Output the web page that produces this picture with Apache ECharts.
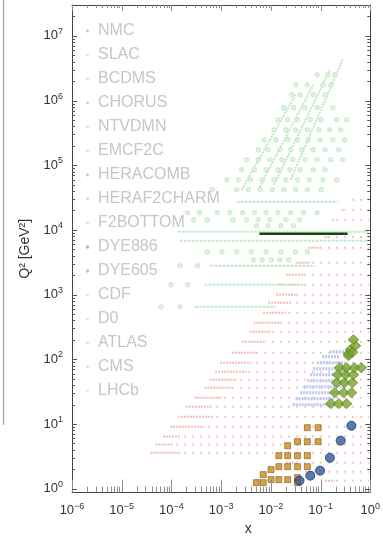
<!DOCTYPE html>
<html>
<head>
<meta charset="utf-8">
<script src="https://cdn.jsdelivr.net/npm/echarts@6/dist/echarts.min.js"></script>
<style>
  html, body { margin: 0; padding: 0; background: #fff; }
  #chart { width: 383px; height: 541px; }
</style>
</head>
<body>
<div id="chart"></div>
<script>
// axis ranges
var X_MIN = 1e-6, X_MAX = 1;
var Y_MIN = 0.87, Y_MAX = 3e7;
var xTickExponents = [-6, -5, -4, -3, -2, -1, 0];
var xTickLabels = ['\u22126', '\u22125', '\u22124', '\u22123', '\u22122', '\u22121', '0'];
var yTickExponents = [0, 1, 2, 3, 4, 5, 6, 7];
var yTickLabels = ['0', '1', '2', '3', '4', '5', '6', '7'];
var minorMultipliers = [2, 3, 4, 5, 6, 7, 8, 9];

// legend
var legendNames = ['NMC', 'SLAC', 'BCDMS', 'CHORUS', 'NTVDMN', 'EMCF2C', 'HERACOMB', 'HERAF2CHARM',
  'F2BOTTOM', 'DYE886', 'DYE605', 'CDF', 'D0', 'ATLAS', 'CMS', 'LHCb'];
var legendColors = ['#f4b6bf', '#d9d9d9', '#d6d6d6', '#f1b0b8', '#d4d4d4', '#d6d6d6', '#f2b6be', '#f0bcc4',
  '#d2d6d2', '#aab3e4', '#aab3e4', '#dcdcdc', '#dcdcdc', '#dddddd', '#dcdcdc', '#dddddd'];
var legendIcons = ['circle', 'circle', 'circle', 'circle', 'circle', 'circle', 'circle', 'circle',
  'circle', 'rect', 'rect', 'circle', 'circle', 'circle', 'circle', 'circle'];

// fixed target / DIS rows: [Q2, x start, x end of dense part, x end]
var pinkRows = [
  [3.6, 3.8e-5, 1.55e-4, 0.95], [4.8, 4.75e-5, 1.08e-4, 0.95], [6.4, 6.8e-5, 1.55e-4, 0.95],
  [9.1, 9.4e-5, 4.6e-4, 0.95], [13, 1.35e-4, 7.2e-4, 0.95], [18.5, 1.94e-4, 6.6e-4, 0.95],
  [25.5, 2.92e-4, 1.04e-3, 0.95], [36.4, 4.6e-4, 1.8e-3, 0.95], [48.4, 5.8e-4, 2.06e-3, 0.95],
  [64.3, 7.6e-4, 3.24e-3, 0.95], [88.6, 9.5e-4, 4.06e-3, 0.95], [126, 1.64e-3, 5.6e-3, 0.95],
  [187, 2.58e-3, 8.0e-3, 0.95], [267, 3.7e-3, 0.0101, 0.95], [368, 4.46e-3, 0.0159, 0.95],
  [525, 7.0e-3, 0.020, 0.95], [750, 8.8e-3, 0.025, 0.95], [996, 0.0127, 0.0314, 0.95],
  [1420, 0.0145, 0.039, 0.95], [2030, 0.020, 0.049, 0.95], [3110, 0.0314, 0.062, 0.95],
  [5310, 0.0566, 0.098, 0.95], [7800, 0.12, 0.15, 0.95], [14400, 0.169, 0.193, 0.95],
  [20500, 0.265, 0.304, 0.95], [29300, 0.437, 0.479, 0.95],
  [2.52, 0.020, 0.0314, 0.95], [1.83, 0.049, 0.078, 0.95], [1.33, 0.123, 0.193, 0.95]
];

// Drell-Yan rows: [Q2, x start, x end]
var lavenderRows = [
  [19.9, 0.0274, 0.16], [24.6, 0.0314, 0.193], [30.5, 0.039, 0.243], [37.7, 0.0452, 0.304],
  [46.7, 0.0542, 0.333], [57.8, 0.062, 0.382], [71.6, 0.0712, 0.382], [88.6, 0.0853, 0.304],
  [110, 0.107, 0.243], [131, 0.154, 0.304]
];

// collider rows: [Q2, x start, x end]
var greenRows = [
  [27300, 2.06e-3, 0.221], [9380, 1.35e-4, 0.90], [6810, 1.48e-4, 0.90],
  [2800, 6.0e-4, 0.078], [1420, 4.6e-4, 0.049], [650, 2.92e-4, 0.0127]
];

// diagonal streaks: [x1, Q2_1, x2, Q2_2]
var greenStreaks = [
  [2.58e-3, 4.18e4, 0.0314, 1.23e6],
  [5.6e-3, 4.18e4, 0.0712, 1.75e6],
  [0.0116, 5.0e4, 0.154, 2.99e6],
  [0.025, 5.97e4, 0.278, 4.27e6]
];

// open circles: [Q2, [x values]]
var greenCircleRows = [
  [2.5e6, [0.0853, 0.141, 0.193]],
  [1.75e6, [0.0314, 0.0542, 0.112, 0.161]],
  [1.23e6, [0.0262, 0.039, 0.0712, 0.123]],
  [7.74e5, [0.0182, 0.0287, 0.049, 0.0853, 0.177]],
  [5.05e5, [0.0139, 0.0218, 0.0343, 0.062, 0.102, 0.211, 0.333]],
  [3.54e5, [0.0116, 0.020, 0.0314, 0.0542, 0.0933, 0.154, 0.254]],
  [2.48e5, [7.3e-3, 0.0127, 0.0218, 0.0343, 0.0566, 0.098, 0.177, 0.304]],
  [1.74e5, [5.6e-3, 8.8e-3, 0.0152, 0.025, 0.0412, 0.0712, 0.123, 0.232]],
  [1.22e5, [3.24e-3, 5.6e-3, 9.6e-3, 0.0166, 0.0274, 0.049, 0.0853, 0.161, 0.278]],
  [8.52e4, [2.58e-3, 4.67e-3, 8.0e-3, 0.0139, 0.0239, 0.039, 0.0712, 0.123]],
  [5.97e4, [1.31e-3, 2.25e-3, 3.89e-3, 6.7e-3, 0.0116, 0.020, 0.0343, 0.0593, 0.112, 0.211]],
  [4.18e4, [6.6e-4, 2.06e-3, 3.55e-3, 6.1e-3, 0.0106, 0.0182, 0.0314, 0.0542, 0.102]],
  [1.85e4, [2.12e-4, 3.66e-4, 8.3e-4, 1.5e-3, 2.7e-3, 4.67e-3, 8.0e-3, 0.0139, 0.025, 0.0452, 0.0853]],
  [1.44e4, [2.79e-4, 5.27e-4, 1.72e-3, 3.24e-3, 5.6e-3, 9.6e-3, 0.020, 0.0377]],
  [1.16e4, [5.1e-3, 8.8e-3, 0.0159, 0.0287]],
  [4600, [5.27e-4, 1.04e-3, 2.06e-3, 4.06e-3, 8.0e-3, 0.0159, 0.0314, 0.0542]],
  [3460, [4.46e-3, 6.7e-3, 0.0101, 0.0152, 0.0229]],
  [2800, [1.48e-4, 3.35e-4]],
  [1420, [9.8e-5, 2.12e-4]],
  [650, [6.2e-5, 1.48e-4]]
];

var darkLine = [[0.0059, 8730], [0.35, 8730]];

var orangeSquares = [
  [0.0542, 8.77], [0.0893, 8.77],
  [0.0218, 4.62], [0.0343, 5.33], [0.0542, 5.33], [0.0893, 5.33],
  [0.0145, 3.24], [0.0218, 3.24], [0.0343, 3.24], [0.0542, 3.24],
  [0.0101, 1.97], [0.0145, 2.19], [0.0218, 2.19], [0.0343, 2.19], [0.0542, 2.19],
  [0.00702, 1.65],
  [0.0051, 1.24], [0.00702, 1.24], [0.0101, 1.38], [0.0145, 1.38], [0.0218, 1.38],
  [0.0343, 1.48], [0.0343, 1.24]
];

var blueCircles = [
  [0.418, 9.41], [0.254, 5.52], [0.154, 3.01], [0.0977, 1.90], [0.0621, 1.59], [0.0377, 1.33]
];

var greenDiamonds = [
  [0.161, 20.6], [0.232, 20.6], [0.333, 20.6],
  [0.193, 30.5], [0.291, 30.5], [0.418, 30.5],
  [0.211, 43.5], [0.304, 43.5], [0.437, 43.5],
  [0.221, 57.8], [0.318, 57.8], [0.458, 57.8],
  [0.243, 74.1], [0.333, 74.1], [0.479, 74.1], [0.66, 74.1],
  [0.365, 114], [0.365, 122], [0.400, 141], [0.501, 162], [0.458, 201], [0.44, 128]
];

function rowSegments(rows, from, to) {
  return rows.map(function (r) { return [r[from], r[0], r[to], r[0]]; });
}

function segmentSeries(name, segs, color, width, dash, period) {
  return {
    name: name,
    type: 'custom',
    coordinateSystem: 'cartesian2d',
    clip: true,
    silent: true,
    itemStyle: { color: color },
    data: segs,
    renderItem: function (params, api) {
      var p1 = api.coord([api.value(0), api.value(1)]);
      var p2 = api.coord([api.value(2), api.value(3)]);
      return {
        type: 'line',
        shape: { x1: p1[0], y1: p1[1], x2: p2[0], y2: p2[1] },
        style: {
          stroke: color, lineWidth: width, lineDash: dash, lineCap: 'butt',
          lineDashOffset: period ? (p1[0] % period) : 0
        }
      };
    }
  };
}

var circleData = [];
greenCircleRows.forEach(function (r) {
  r[1].forEach(function (x) { circleData.push([x, r[0]]); });
});

// tick marks for the frame (log minor ticks at 2..9)
var tickData = [];
xTickExponents.forEach(function (e) {
  tickData.push([Math.pow(10, e), Y_MIN, 0]);
  minorMultipliers.forEach(function (m) {
    var v = m * Math.pow(10, e);
    if (v < X_MAX) tickData.push([v, Y_MIN, 1]);
  });
});
[-1].concat(yTickExponents).forEach(function (e) {
  if (e >= 0) tickData.push([X_MIN, Math.pow(10, e), 2]);
  minorMultipliers.forEach(function (m) {
    var v = m * Math.pow(10, e);
    if (v > Y_MIN && v < Y_MAX) tickData.push([X_MIN, v, 3]);
  });
});

var tickSeries = {
  type: 'custom',
  coordinateSystem: 'cartesian2d',
  silent: true,
  clip: false,
  z: 5,
  data: tickData,
  renderItem: function (params, api) {
    var cs = params.coordSys;
    var kind = api.value(2);
    var p = api.coord([api.value(0), api.value(1)]);
    var st = { stroke: '#8c8c8c', lineWidth: 1 };
    var ch = [];
    if (kind < 2) {
      var x = Math.round(p[0]) + 0.5;
      var lb = kind === 0 ? 13 : 6, lt = kind === 0 ? 6 : 3;
      ch.push({ type: 'line', shape: { x1: x, y1: cs.y + cs.height, x2: x, y2: cs.y + cs.height - lb }, style: st });
      ch.push({ type: 'line', shape: { x1: x, y1: cs.y, x2: x, y2: cs.y + lt }, style: st });
    } else {
      var y = Math.round(p[1]) + 0.5;
      var l = kind === 2 ? 5 : 3;
      ch.push({ type: 'line', shape: { x1: cs.x, y1: y, x2: cs.x + l, y2: y }, style: { stroke: '#555', lineWidth: 1 } });
      ch.push({ type: 'line', shape: { x1: cs.x + cs.width, y1: y, x2: cs.x + cs.width - l, y2: y }, style: { stroke: '#555', lineWidth: 1 } });
    }
    return { type: 'group', children: ch };
  }
};

function powLabel(exps, labels) {
  return function (v) {
    var lg = Math.log10(v);
    var e = Math.round(lg);
    var i = exps.indexOf(e);
    if (i < 0 || Math.abs(lg - e) > 0.01) return '';
    return '{b|10}{e|' + labels[i] + '}';
  };
}
var labelRich = {
  b: { fontSize: 13, color: '#333', fontFamily: 'Liberation Sans' },
  e: { fontSize: 9, color: '#333', fontFamily: 'Liberation Sans', padding: [0, 0, 9, 0] }
};
var frameLine = { show: true, lineStyle: { color: '#444', width: 1 } };

var chart = echarts.init(document.getElementById('chart'), null, { renderer: 'canvas' });

var series = [
  segmentSeries('NMC', rowSegments(pinkRows, 2, 3), '#f6c6c6', 2, [2, 6], 8),
  segmentSeries('HERACOMB', rowSegments(pinkRows, 1, 2), '#f3bcbc', 2, [2, 1], 0),
  segmentSeries('DYE886', rowSegments(lavenderRows, 1, 2), '#bcc6f0', 3, [2, 1], 0),
  segmentSeries('ATLAS', rowSegments(greenRows, 1, 2), '#c6ebc6', 2, [3, 1], 0),
  segmentSeries('CMS', greenStreaks, '#bfe7bf', 2, [2, 1], 0),
  {
    name: 'HERAF2CHARM', type: 'scatter', symbol: 'emptyCircle', symbolSize: 3.5, silent: true,
    itemStyle: { color: '#c4e9c4', borderWidth: 0.9 },
    data: circleData
  },
  {
    name: 'darkline', type: 'line', data: darkLine, symbol: 'none', silent: true,
    lineStyle: { color: '#0f4a12', width: 2.5 }
  },
  {
    name: 'squares', type: 'scatter', symbol: 'rect', symbolSize: 6, silent: true,
    itemStyle: { color: '#c98a22', borderColor: '#8d5c12', borderWidth: 0.8 },
    data: orangeSquares
  },
  {
    name: 'circles', type: 'scatter', symbol: 'circle', symbolSize: 9, silent: true,
    itemStyle: { color: '#30599c', borderColor: '#1c3562', borderWidth: 1 },
    data: blueCircles
  },
  {
    name: 'diamonds', type: 'scatter', symbol: 'diamond', symbolSize: [11, 10], silent: true,
    itemStyle: { color: '#77a22a', borderColor: '#5e8420', borderWidth: 0.8 },
    data: greenDiamonds
  },
  tickSeries
];
legendNames.forEach(function (n) {
  if (!series.some(function (s) { return s.name === n; })) {
    series.push({ name: n, type: 'scatter', data: [] });
  }
});

chart.setOption({
  animation: false,
  backgroundColor: '#fff',
  grid: { left: 72, right: 8, top: 5, bottom: 48 },
  legend: {
    orient: 'vertical',
    left: 86,
    top: 23,
    padding: 0,
    itemWidth: 3,
    itemHeight: 3,
    itemGap: 8,
    selectedMode: false,
    textStyle: { color: '#c6c6c6', fontSize: 16, lineHeight: 16, fontFamily: 'Liberation Sans', padding: [0, 0, 0, 4] },
    data: legendNames.map(function (n, i) {
      return { name: n, icon: legendIcons[i], itemStyle: { color: legendColors[i], borderWidth: 0 } };
    })
  },
  xAxis: [{
    type: 'log', min: X_MIN, max: X_MAX,
    axisLine: frameLine, axisTick: { show: false }, splitLine: { show: false },
    axisLabel: { formatter: powLabel(xTickExponents, xTickLabels), rich: labelRich, margin: 9 },
    name: 'x', nameLocation: 'middle', nameGap: 25,
    nameTextStyle: { fontSize: 14, color: '#333', fontFamily: 'Liberation Sans', padding: [0, 0, 0, 54] }
  }, {
    type: 'log', min: X_MIN, max: X_MAX, position: 'top',
    axisLine: frameLine, axisTick: { show: false }, axisLabel: { show: false }, splitLine: { show: false }
  }],
  yAxis: [{
    type: 'log', min: Y_MIN, max: Y_MAX,
    axisLine: frameLine, axisTick: { show: false }, splitLine: { show: false },
    axisLabel: { formatter: powLabel(yTickExponents, yTickLabels), rich: labelRich, margin: 9,
      showMinLabel: false, showMaxLabel: false },
    name: 'Q\u00b2 [GeV\u00b2]', nameLocation: 'middle', nameGap: 38, nameRotate: 90,
    nameTextStyle: { fontSize: 14, color: '#333', fontFamily: 'Liberation Sans' }
  }, {
    type: 'log', min: Y_MIN, max: Y_MAX, position: 'right',
    axisLine: frameLine, axisTick: { show: false }, axisLabel: { show: false }, splitLine: { show: false }
  }],
  graphic: [{
    type: 'line', silent: true,
    shape: { x1: 3.5, y1: 0, x2: 3.5, y2: 425 },
    style: { stroke: '#95a3b2', lineWidth: 1.2 }
  }],
  series: series
});
</script>
</body>
</html>
